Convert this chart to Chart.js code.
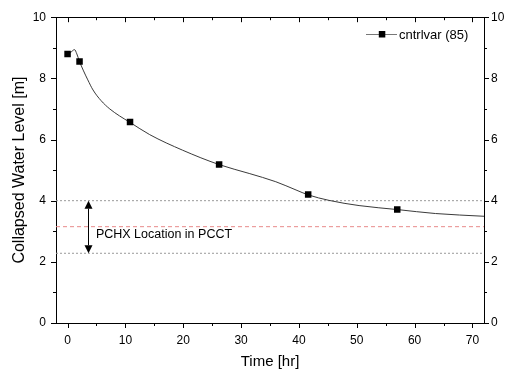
<!DOCTYPE html>
<html>
<head>
<meta charset="utf-8">
<script src="https://cdn.jsdelivr.net/npm/chart.js@4.4.1/dist/chart.umd.min.js"></script>
<style>
    html, body { margin: 0; padding: 0; background: #fff; }
</style>
</head>
<body>
<canvas id="levelChart" width="507" height="375"></canvas>
<script>
// cntrlvar (85) trace
const curveTime = [0, 0.6, 1.2, 1.6, 2.07, 2.7, 3.5, 4.4, 5.8, 7.3, 9.0, 10.8, 14.2, 19.9, 26.2, 31.4, 36.0, 39.5, 41.6, 45.2, 50.4, 57, 63.6, 72];
const curveLevel = [8.8, 8.86, 8.94, 8.8, 8.55, 8.27, 7.95, 7.62, 7.27, 7.0, 6.77, 6.56, 6.16, 5.65, 5.18, 4.89, 4.62, 4.35, 4.19, 4.01, 3.84, 3.71, 3.58, 3.49];

// symbols on the trace
const markerTime = [0, 2.07, 10.8, 26.2, 41.6, 57];
const markerLevel = [8.8, 8.55, 6.57, 5.18, 4.2, 3.71];

// PCHX band
const pchxTop = 4.0;
const pchxBottom = 2.28;
const pchxMid = 3.15;
const arrowTime = 3.55;
const labelTime = 4.9;
const labelLevel = 2.88;
const bandLabel = 'PCHX Location in PCCT';
const seriesName = 'cntrlvar (85)';

// axes
const timeRange = [-2, 72];
const levelRange = [0, 10];
const timeTicks = [0, 10, 20, 30, 40, 50, 60, 70];
const timeMinor = [5, 15, 25, 35, 45, 55, 65];
const levelTicks = [0, 2, 4, 6, 8, 10];
const levelMinor = [1, 3, 5, 7, 9];

const FONT = "'Liberation Sans', Arial, sans-serif";
Chart.defaults.font.family = FONT;
Chart.defaults.color = '#000';

const pts = (xs, ys) => xs.map((x, i) => ({ x: x, y: ys[i] }));
const hline = y => pts(timeRange, [y, y]);
const setTicks = vals => scale => { scale.ticks = vals.map(v => ({ value: v })); };

// ticks, arrow, label and legend drawn after the datasets
const originFrame = {
    id: 'originFrame',
    afterDraw(chart) {
        const ctx = chart.ctx;
        const { left, right, top, bottom } = chart.chartArea;
        const xs = chart.scales.x, ys = chart.scales.y;

        ctx.save();
        ctx.strokeStyle = '#000';
        ctx.lineWidth = 1;
        ctx.beginPath();
        const tickX = (vals, len) => vals.forEach(v => {
            const px = Math.round(xs.getPixelForValue(v)) + 0.5;
            ctx.moveTo(px, bottom); ctx.lineTo(px, bottom + len);
            ctx.moveTo(px, top); ctx.lineTo(px, top + len);
        });
        const tickY = (vals, len) => vals.forEach(v => {
            const py = Math.round(ys.getPixelForValue(v)) + 0.5;
            ctx.moveTo(left - len, py); ctx.lineTo(left, py);
            ctx.moveTo(right, py); ctx.lineTo(right + len, py);
        });
        tickX(timeTicks, 5); tickX(timeMinor, 3);
        tickY(levelTicks, 5); tickY(levelMinor, 3);
        ctx.stroke();

        // double arrow
        const ax = Math.round(xs.getPixelForValue(arrowTime)) + 0.5;
        const ay1 = ys.getPixelForValue(pchxTop);
        const ay2 = ys.getPixelForValue(pchxBottom);
        const head = 8, half = 4;
        ctx.beginPath();
        ctx.moveTo(ax, ay1 + head); ctx.lineTo(ax, ay2 - head);
        ctx.stroke();
        ctx.fillStyle = '#000';
        ctx.beginPath();
        ctx.moveTo(ax, ay1); ctx.lineTo(ax - half, ay1 + head); ctx.lineTo(ax + half, ay1 + head);
        ctx.closePath(); ctx.fill();
        ctx.beginPath();
        ctx.moveTo(ax, ay2); ctx.lineTo(ax - half, ay2 - head); ctx.lineTo(ax + half, ay2 - head);
        ctx.closePath(); ctx.fill();

        ctx.font = '12.5px ' + FONT;
        ctx.textBaseline = 'middle';
        ctx.textAlign = 'left';
        ctx.fillText(bandLabel, xs.getPixelForValue(labelTime), ys.getPixelForValue(labelLevel));

        // legend
        const ly = 34;
        ctx.strokeStyle = '#777';
        ctx.beginPath();
        ctx.moveTo(366, ly + 0.5); ctx.lineTo(397, ly + 0.5);
        ctx.stroke();
        ctx.fillRect(382 - 3.2, ly - 3, 6.5, 6.5);
        ctx.font = '13px ' + FONT;
        ctx.fillText(seriesName, 399, ly + 1);
        ctx.restore();
    }
};

const axisBorder = { display: true, color: '#000', width: 1 };
const noGrid = { display: false, drawTicks: false };

new Chart(document.getElementById('levelChart'), {
    type: 'line',
    data: {
        datasets: [
            {
                label: seriesName,
                data: pts(markerTime, markerLevel),
                showLine: false,
                pointStyle: 'rect',
                pointRadius: 4.6,
                pointBackgroundColor: '#000',
                pointBorderWidth: 0
            },
            {
                label: 'trace',
                data: pts(curveTime, curveLevel),
                borderColor: '#3a3a3a',
                borderWidth: 1,
                pointRadius: 0,
                cubicInterpolationMode: 'monotone'
            },
            {
                label: 'band top',
                data: hline(pchxTop),
                borderColor: '#9a9a9a',
                borderWidth: 1,
                borderDash: [2, 2],
                pointRadius: 0
            },
            {
                label: 'band bottom',
                data: hline(pchxBottom),
                borderColor: '#9a9a9a',
                borderWidth: 1,
                borderDash: [2, 2],
                pointRadius: 0
            },
            {
                label: 'band middle',
                data: hline(pchxMid),
                borderColor: '#e98a8a',
                borderWidth: 1,
                borderDash: [4, 3],
                pointRadius: 0
            }
        ]
    },
    options: {
        responsive: false,
        devicePixelRatio: 1,
        animation: false,
        layout: { padding: 0 },
        plugins: { legend: { display: false }, tooltip: { enabled: false } },
        scales: {
            x: {
                type: 'linear', position: 'bottom',
                min: timeRange[0], max: timeRange[1],
                afterBuildTicks: setTicks(timeTicks),
                grid: noGrid, border: axisBorder,
                ticks: { font: { size: 12 }, padding: 10, maxRotation: 0 },
                title: { display: true, text: 'Time [hr]', font: { size: 15 }, padding: { top: 0, bottom: 4 } },
                afterFit: s => { s.height = 52; }
            },
            x2: {
                type: 'linear', position: 'top',
                min: timeRange[0], max: timeRange[1],
                grid: noGrid, border: axisBorder,
                ticks: { display: false },
                afterFit: s => { s.height = 13; }
            },
            y: {
                position: 'left',
                min: levelRange[0], max: levelRange[1],
                afterBuildTicks: setTicks(levelTicks),
                grid: noGrid, border: axisBorder,
                ticks: { font: { size: 12 }, padding: 10 },
                title: { display: true, text: 'Collapsed Water Level [m]', font: { size: 16 }, padding: { top: 10, bottom: 0 } },
                afterFit: s => { s.width = 56; }
            },
            y2: {
                position: 'right',
                min: levelRange[0], max: levelRange[1],
                afterBuildTicks: setTicks(levelTicks),
                grid: noGrid, border: axisBorder,
                ticks: { font: { size: 12 }, padding: 7 },
                afterFit: s => { s.width = 23; }
            }
        }
    },
    plugins: [originFrame]
});
</script>
</body>
</html>
